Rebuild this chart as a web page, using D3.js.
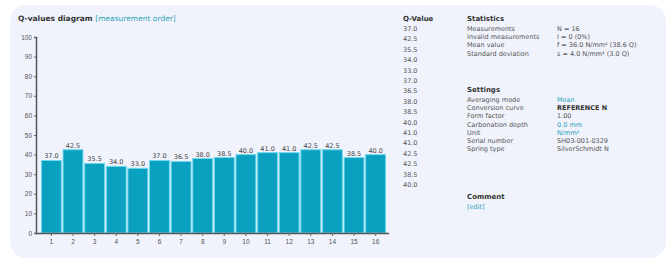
<!DOCTYPE html>
<html>
<head>
<meta charset="utf-8">
<script src="https://cdn.jsdelivr.net/npm/d3@7"></script>
<style>
  body { margin: 0; background: #ffffff; }
  svg { display: block; font-family: "DejaVu Sans", Verdana, sans-serif; }
</style>
</head>
<body>
<script>
// measurement data
var measurements = ["1", "2", "3", "4", "5", "6", "7", "8", "9", "10", "11", "12", "13", "14", "15", "16"];
var qValues = [37.0, 42.5, 35.5, 34.0, 33.0, 37.0, 36.5, 38.0, 38.5, 40.0, 41.0, 41.0, 42.5, 42.5, 38.5, 40.0];
var yTicks = [0, 10, 20, 30, 40, 50, 60, 70, 80, 90, 100];

var statLabels = ["Measurements", "Invalid measurements", "Mean value", "Standard deviation"];
var statValues = ["N = 16", "I = 0 (0%)", "f = 36.0 N/mm\u00b2 (38.6 Q)", "s = 4.0 N/mm\u00b2 (3.0 Q)"];
var settingLabels = ["Averaging mode", "Conversion curve", "Form factor", "Carbonation depth", "Unit", "Serial number", "Spring type"];
var settingValues = ["Mean", "REFERENCE N", "1.00", "0.0 mm", "N/mm\u00b2", "SH03-001-0329", "SilverSchmidt N"];

var width = 672, height = 264;
var teal = "#2a9fb8", dark = "#333";

var svg = d3.select("body").append("svg")
    .attr("width", width)
    .attr("height", height);

// panel
svg.append("rect")
    .attr("x", 10).attr("y", 5)
    .attr("width", 656).attr("height", 253)
    .attr("rx", 16)
    .attr("fill", "#f0f3fb");

// title
var title = svg.append("text")
    .attr("x", 18).attr("y", 21)
    .attr("font-size", 7.5);
title.append("tspan").attr("font-weight", "bold").attr("fill", dark).text("Q-values diagram ");
title.append("tspan").attr("fill", teal).text("[measurement order]");

var x = d3.scaleBand()
    .domain(measurements)
    .range([41, 386])
    .paddingInner(0.08)
    .paddingOuter(0.02);

var y = d3.scaleLinear()
    .domain([0, 100])
    .range([233, 37]);

var chart = svg.append("g");

chart.selectAll("rect.bar")
    .data(qValues)
    .enter().append("rect")
    .attr("class", "bar")
    .attr("x", function (d, i) { return x(measurements[i]); })
    .attr("y", function (d) { return y(d); })
    .attr("width", x.bandwidth())
    .attr("height", function (d) { return y(0) - y(d); })
    .attr("fill", "#0aa0bf")
    .attr("stroke", "#6fdaf0")
    .attr("stroke-width", 1);

chart.selectAll("text.val")
    .data(qValues)
    .enter().append("text")
    .attr("class", "val")
    .attr("x", function (d, i) { return x(measurements[i]) + x.bandwidth() / 2; })
    .attr("y", function (d) { return y(d) - 2; })
    .attr("text-anchor", "middle")
    .attr("font-size", 6.5)
    .attr("fill", "#444")
    .text(function (d) { return d.toFixed(1); });

var yAxis = svg.append("g")
    .attr("transform", "translate(36,0)")
    .call(d3.axisLeft(y).tickValues(yTicks).tickSize(2).tickPadding(2));

var xAxis = svg.append("g")
    .attr("transform", "translate(0,233)")
    .call(d3.axisBottom(x).tickSize(3).tickPadding(3));
xAxis.select(".domain").attr("d", "M36,0.5H389");

[yAxis, xAxis].forEach(function (a) {
    a.selectAll("text").attr("font-size", 6.5).attr("fill", "#555").attr("font-family", null);
    a.selectAll("line").attr("stroke", "#666");
    a.select(".domain").attr("stroke", "#555").attr("stroke-width", 1.5);
});

// Q-value list
svg.append("text")
    .attr("x", 403).attr("y", 21)
    .attr("font-size", 7).attr("font-weight", "bold").attr("fill", dark)
    .text("Q-Value");

var listY = d3.scaleLinear().domain([0, 15]).range([31, 187]);
svg.selectAll("text.qlist")
    .data(qValues)
    .enter().append("text")
    .attr("class", "qlist")
    .attr("x", 403)
    .attr("y", function (d, i) { return listY(i); })
    .attr("font-size", 6.5).attr("fill", "#555")
    .text(function (d) { return d.toFixed(1); });

function block(head, labels, values, top, styles) {
    svg.append("text")
        .attr("x", 467).attr("y", top)
        .attr("font-size", 7).attr("font-weight", "bold").attr("fill", dark)
        .text(head);
    labels.forEach(function (l, i) {
        var yy = top + 10 + i * 8.2;
        svg.append("text")
            .attr("x", 467).attr("y", yy)
            .attr("font-size", 6.5).attr("fill", "#555")
            .text(l);
        var s = styles ? styles[i] : "";
        svg.append("text")
            .attr("x", 557).attr("y", yy)
            .attr("font-size", 6.5)
            .attr("font-weight", s === "b" ? "bold" : null)
            .attr("fill", s === "t" ? teal : (s === "b" ? dark : "#555"))
            .text(values[i]);
    });
}

block("Statistics", statLabels, statValues, 21);
block("Settings", settingLabels, settingValues, 92, ["t", "b", "", "t", "t", "", ""]);

svg.append("text")
    .attr("x", 467).attr("y", 199)
    .attr("font-size", 7).attr("font-weight", "bold").attr("fill", dark)
    .text("Comment");
svg.append("text")
    .attr("x", 467).attr("y", 209)
    .attr("font-size", 6.5).attr("fill", teal)
    .text("[edit]");
</script>
</body>
</html>
